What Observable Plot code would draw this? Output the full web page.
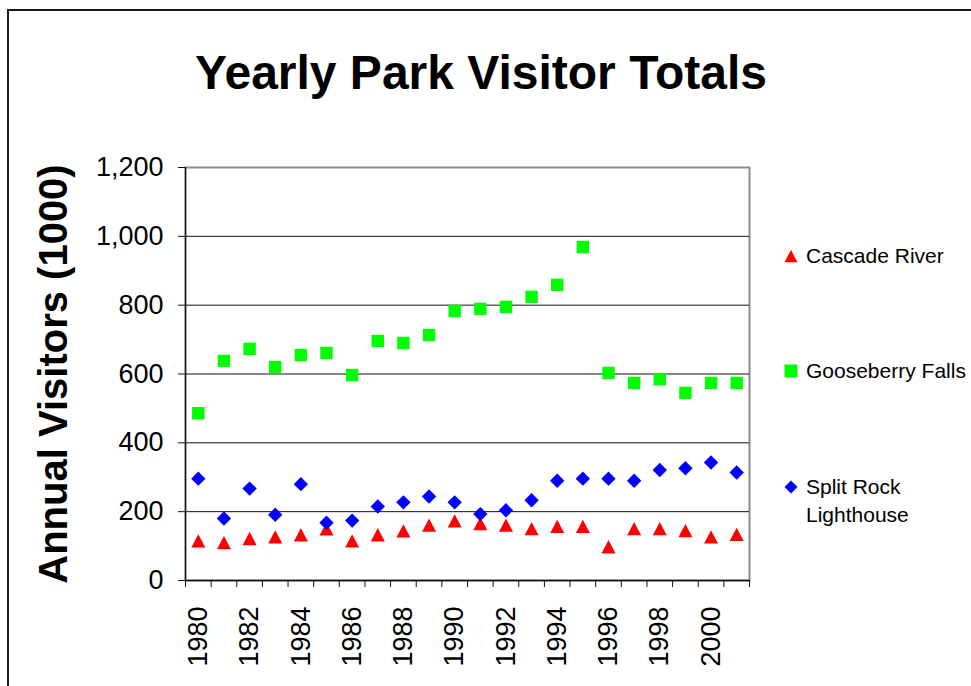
<!DOCTYPE html>
<html>
<head>
<meta charset="utf-8">
<script src="https://cdn.jsdelivr.net/npm/d3@7"></script>
<script src="https://cdn.jsdelivr.net/npm/@observablehq/plot@0.6"></script>
<style>
  html, body { margin: 0; padding: 0; background: #fff; }
  #wrap { position: relative; width: 971px; height: 686px; overflow: hidden; background: #fff;
          font-family: "Liberation Sans", Arial, Helvetica, sans-serif; color: #000; }
  #border { position: absolute; left: 7px; top: 9px; right: -20px; bottom: -20px;
            border-left: 2px solid #1a1a1a; border-top: 2px solid #1a1a1a; }
  #title { position: absolute; left: 0; width: 962px; top: 49px; text-align: center;
           font-size: 48px; line-height: 48px; font-weight: bold; white-space: nowrap; }
  #chart { position: absolute; left: 0; top: 0; }
  .leg { position: absolute; left: 806px; font-size: 21px; line-height: 28px; white-space: pre; }
  .legsym { position: absolute; left: 783px; width: 16px; height: 16px; }
</style>
</head>
<body>
<div id="wrap">
  <div id="border"></div>
  <div id="chart"></div>
  <div id="title"></div>
</div>
<script>
// ---- Data ----
const years = [1980,1981,1982,1983,1984,1985,1986,1987,1988,1989,1990,1991,1992,1993,1994,1995,1996,1997,1998,1999,2000,2001];
const cascadeRiver   = [115,110,122,127,133,150,115,133,144,161,173,165,161,151,157,157,98,151,151,145,127,134];
const gooseberryFalls = [486,638,673,620,655,661,597,696,690,713,783,789,795,824,859,969,603,574,585,545,574,574];
const splitRock      = [296,180,267,191,280,168,174,215,227,244,227,193,204,233,290,296,296,290,321,326,343,314];
const seriesNames  = ["Cascade River", "Gooseberry Falls", "Split Rock Lighthouse"];
const legendLabels = ["Cascade River", "Gooseberry Falls", "Split Rock\nLighthouse"];
const seriesColors = ["#ff0000", "#00ff00", "#0000ff"];
const xLabelYears  = [1980,1982,1984,1986,1988,1990,1992,1994,1996,1998,2000];
const yTicks       = [0,200,400,600,800,1000,1200];
const titleText  = "Yearly Park Visitor Totals";
const yLabelText = "Annual Visitors (1000)";

// ---- Symbols (Excel-like, centered on bounding box) ----
const triangleSym = { draw(ctx, size) { const r = Math.sqrt(size / Math.PI); const h = r * 0.95;
  ctx.moveTo(0, -h); ctx.lineTo(r, h); ctx.lineTo(-r, h); ctx.closePath(); } };
const squareSym = { draw(ctx, size) { const r = Math.sqrt(size / Math.PI);
  ctx.moveTo(-r, -r); ctx.lineTo(r, -r); ctx.lineTo(r, r); ctx.lineTo(-r, r); ctx.closePath(); } };
const diamondSym = { draw(ctx, size) { const r = Math.sqrt(size / Math.PI);
  ctx.moveTo(0, -r); ctx.lineTo(r, 0); ctx.lineTo(0, r); ctx.lineTo(-r, 0); ctx.closePath(); } };
const seriesSymbols = [triangleSym, squareSym, diamondSym];
const seriesR = [7, 6.2, 7.2];

const seriesValues = [cascadeRiver, gooseberryFalls, splitRock];
const tables = seriesValues.map((vals, i) => years.map((yr, j) => ({year: yr, value: vals[j], series: seriesNames[i]})));

const boundaries = years.map(y => y - 0.5).concat([years[years.length - 1] + 0.5]);
const gridVals = yTicks.slice(1, -1);

const chart = Plot.plot({
  width: 971, height: 686,
  marginLeft: 185, marginRight: 222, marginTop: 167, marginBottom: 106,
  style: { fontFamily: '"Liberation Sans", Arial, sans-serif', color: "#000", background: "transparent", overflow: "visible" },
  x: { type: "linear", domain: [boundaries[0], boundaries[boundaries.length - 1]] },
  y: { domain: [yTicks[0], yTicks[yTicks.length - 1]] },
  marks: [
    Plot.frame({ stroke: "#8c8c8c", strokeWidth: 2 }),
    Plot.ruleY(gridVals, { stroke: "#111", strokeWidth: 1 }),
    Plot.ruleX([boundaries[0]], { stroke: "#111", strokeWidth: 1.3 }),
    Plot.ruleY([yTicks[0]], { stroke: "#111", strokeWidth: 1.3 }),
    Plot.axisY({ ticks: yTicks, tickFormat: d3.format(","), tickSize: 7, tickPadding: 15, fontSize: 27, label: null, stroke: "#111" }),
    Plot.axisX({ ticks: boundaries, tickFormat: () => "", tickSize: 7, label: null, stroke: "#111" }),
    Plot.axisX({ ticks: xLabelYears, tickFormat: d => String(d), tickSize: 0, tickPadding: 26, tickRotate: -90, fontSize: 27, label: null }),
    Plot.text([yLabelText], { text: d => d, frameAnchor: "left", textAnchor: "middle", lineAnchor: "middle", rotate: -90, dx: -131, fontSize: 40, fontWeight: "bold", fill: "#000" }),
    ...tables.map((t, i) => Plot.dot(t, { x: "year", y: "value", symbol: seriesSymbols[i], r: seriesR[i], fill: seriesColors[i], stroke: "none" }))
  ]
});
document.getElementById("chart").appendChild(chart);
document.getElementById("title").textContent = titleText;

// ---- Legend ----
const wrap = document.getElementById("wrap");
const legendTops = [242, 357, 473];
legendLabels.forEach((lab, i) => {
  const t = document.createElement("div");
  t.className = "leg";
  t.style.top = legendTops[i] + "px";
  t.textContent = lab;
  wrap.appendChild(t);
  const s = d3.create("svg").attr("class", "legsym").attr("width", 16).attr("height", 16)
    .style("top", (legendTops[i] + 14 - 8) + "px");
  s.append("path").attr("transform", "translate(8,8)")
    .attr("d", d3.symbol(seriesSymbols[i], 6.5 * 6.5 * Math.PI)())
    .attr("fill", seriesColors[i]);
  wrap.appendChild(s.node());
});
</script>
</body>
</html>
